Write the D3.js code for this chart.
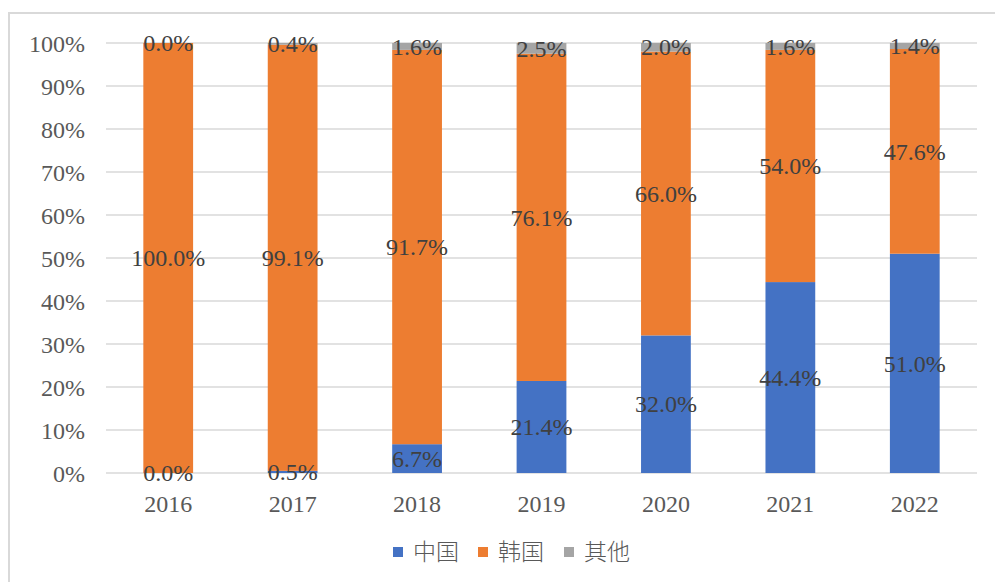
<!DOCTYPE html>
<html><head><meta charset="utf-8">
<script src="https://cdn.jsdelivr.net/npm/d3@7"></script>
<style>body{margin:0;background:#fff}svg{display:block}</style>
</head><body>
<script>
const years = ["2016","2017","2018","2019","2020","2021","2022"];
const china = [0.0, 0.5, 6.7, 21.4, 32.0, 44.4, 51.0];
const korea = [100.0, 99.1, 91.7, 76.1, 66.0, 54.0, 47.6];
const other = [0.0, 0.4, 1.6, 2.5, 2.0, 1.6, 1.4];
const seriesNames = ["中国","韩国","其他"];
const colors = ["#4472C4","#ED7D31","#A5A5A5"];
const yTicks = [0,10,20,30,40,50,60,70,80,90,100];

const W=995,H=583;
const svg=d3.select("body").append("svg").attr("width",W).attr("height",H);
// frame
svg.append("path").attr("d","M9,582 L9,13 L996,13").attr("fill","none").attr("stroke","#D9D9D9").attr("stroke-width",2);

const x=d3.scaleBand().domain(years).range([106,977]).paddingInner(0.6).paddingOuter(0.3);
const y=d3.scaleLinear().domain([0,100]).range([473,43]);

const serif="'Liberation Serif','Times New Roman',serif";
// gridlines
svg.append("g").selectAll("line").data(yTicks).join("line")
 .attr("x1",106).attr("x2",977).attr("y1",d=>y(d)).attr("y2",d=>y(d))
 .attr("stroke","#D9D9D9").attr("stroke-width",1.5);

// y axis labels
const yAxis=d3.axisLeft(y).tickValues(yTicks).tickSize(0).tickPadding(0).tickFormat(d=>d+"%");
const ga=svg.append("g").attr("transform","translate(85,0)").call(yAxis);
ga.select(".domain").remove();
ga.selectAll("text").attr("font-family",serif).attr("font-size",24).attr("fill","#595959").attr("dy","0.34em");

// x axis labels
const xAxis=d3.axisBottom(x).tickSize(0).tickPadding(0);
const gx=svg.append("g").attr("transform","translate(0,495)").call(xAxis);
gx.select(".domain").remove();
gx.selectAll("text").attr("font-family",serif).attr("font-size",24).attr("fill","#595959").attr("dy","0.71em");

const data=years.map((yr,i)=>({year:yr,"中国":china[i],"韩国":korea[i],"其他":other[i]}));
const stack=d3.stack().keys(seriesNames)(data);

const bw=x.bandwidth();
stack.forEach((s,si)=>{
  svg.append("g").selectAll("rect").data(s).join("rect")
   .attr("x",d=>x(d.data.year)).attr("width",bw)
   .attr("y",d=>y(d[1])).attr("height",d=>y(d[0])-y(d[1]))
   .attr("fill",colors[si]);
});
stack.forEach((s,si)=>{
  svg.append("g").selectAll("text").data(s).join("text")
   .attr("x",d=>x(d.data.year)+bw/2)
   .attr("y",d=>y((d[0]+d[1])/2))
   .attr("dy","0.34em")
   .attr("text-anchor","middle")
   .attr("font-family",serif).attr("font-size",24).attr("fill","#404040")
   .text(d=>d.data[seriesNames[si]].toFixed(1)+"%");
});

// legend
const legX=[393,478,564];
const lg=svg.append("g");
seriesNames.forEach((n,i)=>{
  lg.append("rect").attr("x",legX[i]).attr("y",547).attr("width",10).attr("height",10).attr("fill",colors[i]);
  lg.append("text").attr("x",legX[i]+20).attr("y",552).attr("dy","0.36em")
   .attr("font-family","'Noto Sans CJK SC',serif").attr("font-weight",300).attr("font-size",23).attr("fill","#595959").text(n);
});
</script>
</body></html>
